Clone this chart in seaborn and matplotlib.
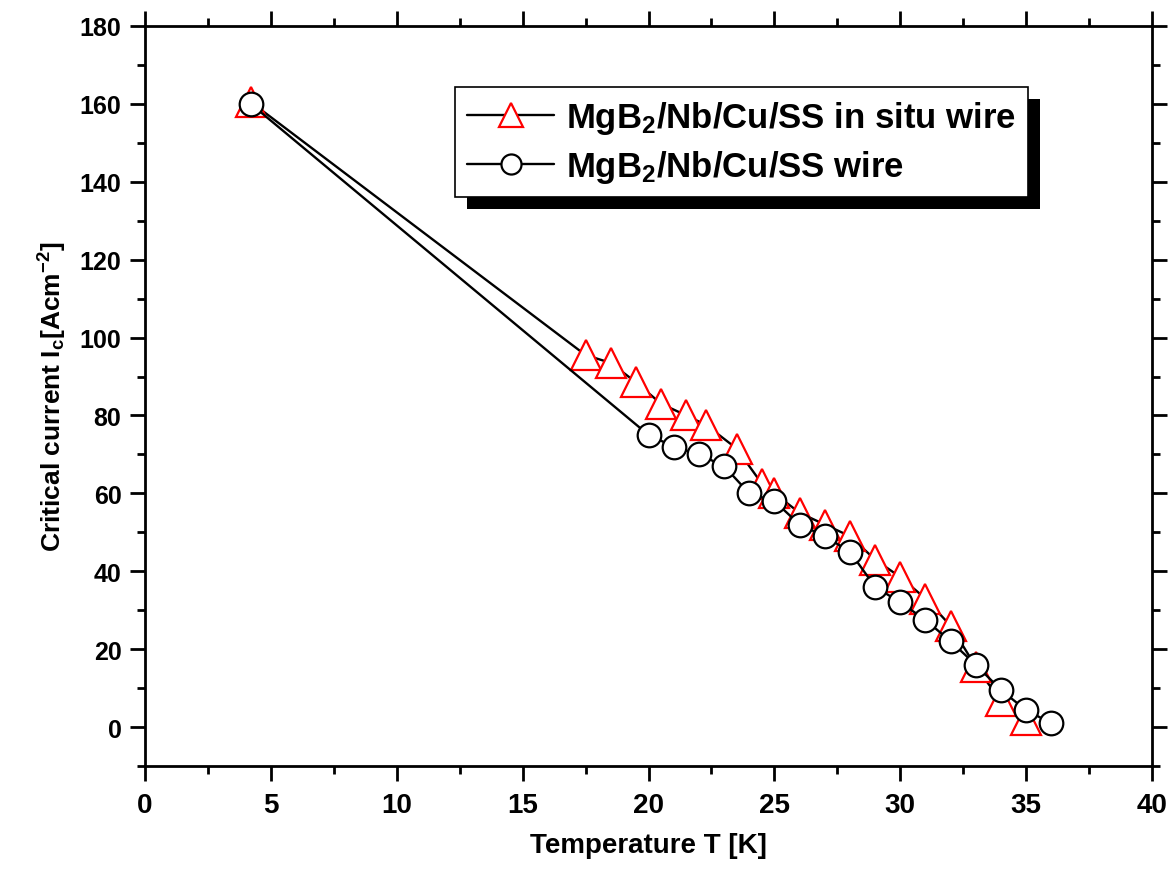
import numpy as np
import pandas as pd
import seaborn as sns
import matplotlib.pyplot as plt
from matplotlib.patches import Rectangle
from matplotlib.ticker import MultipleLocator

# ──────────────────────────────────────────────
# Data
# ──────────────────────────────────────────────
T_insitu = [4.2, 17.5, 18.5, 19.5, 20.5, 21.5, 22.3, 23.5, 24.5, 25, 26, 27,
            28, 29, 30, 31, 32, 33, 34, 35]
Ic_insitu = [160.5, 95.5, 93.5, 88.5, 83, 80, 77.5, 71.5, 62.5, 60, 55, 52,
             49, 43, 38.5, 33, 26, 15.5, 6.7, 1.8]

T_wire = [4.2, 20, 21, 22, 23, 24, 25, 26, 27, 28, 29, 30, 31, 32, 33, 34, 35, 36]
Ic_wire = [160, 75, 72, 70, 67, 60, 58, 52, 49, 45, 36, 32, 27.5, 22, 16,
           9.5, 4.3, 1]

label_insitu = r"MgB$_\mathbf{2}$/Nb/Cu/SS in situ wire"
label_wire = r"MgB$_\mathbf{2}$/Nb/Cu/SS wire"

df_insitu = pd.DataFrame({"T": T_insitu, "Ic": Ic_insitu})
df_wire = pd.DataFrame({"T": T_wire, "Ic": Ic_wire})

# ──────────────────────────────────────────────
# Style
# ──────────────────────────────────────────────
sns.set_style("ticks")
plt.rcParams["font.family"] = ["Liberation Sans", "DejaVu Sans"]
plt.rcParams["font.weight"] = "bold"
plt.rcParams["text.color"] = "black"
plt.rcParams["axes.labelcolor"] = "black"
plt.rcParams["xtick.color"] = "black"
plt.rcParams["ytick.color"] = "black"
plt.rcParams["mathtext.fontset"] = "custom"
plt.rcParams["mathtext.rm"] = "Liberation Sans:bold"
plt.rcParams["mathtext.bf"] = "Liberation Sans:bold"
plt.rcParams["mathtext.default"] = "bf"

fig = plt.figure(figsize=(11.74, 8.70), dpi=100)
ax = fig.add_axes([0.1235, 0.1184, 0.8578, 0.8506])

# ──────────────────────────────────────────────
# Plot
# ──────────────────────────────────────────────
sns.lineplot(data=df_insitu, x="T", y="Ic", ax=ax, color="black", lw=1.7,
             marker="^", markersize=21, markerfacecolor="white",
             markeredgecolor="red", markeredgewidth=1.6, label=label_insitu)
sns.lineplot(data=df_wire, x="T", y="Ic", ax=ax, color="black", lw=1.7,
             marker="o", markersize=17, markerfacecolor="white",
             markeredgecolor="black", markeredgewidth=1.6, label=label_wire)

ax.set_xlim(0, 40)
ax.set_ylim(-10, 180)
ax.xaxis.set_major_locator(MultipleLocator(5))
ax.xaxis.set_minor_locator(MultipleLocator(2.5))
ax.yaxis.set_major_locator(MultipleLocator(20))
ax.yaxis.set_minor_locator(MultipleLocator(10))

for s in ax.spines.values():
    s.set_visible(True)
    s.set_linewidth(2)
    s.set_color("black")
ax.tick_params(which="both", direction="out", top=True, right=True,
               width=2, color="black")
ax.tick_params(which="major", length=11)
ax.tick_params(which="minor", length=6)
ax.tick_params(axis="x", labelsize=20, pad=8)
ax.tick_params(axis="y", labelsize=18, pad=6)

ax.set_xlabel("Temperature T [K]", fontsize=20, fontweight="bold", labelpad=10)
ax.set_ylabel(r"Critical current I$_\mathbf{c}$[Acm$^\mathbf{-2}$]",
              fontsize=19, fontweight="bold", labelpad=8)

leg = ax.legend(loc="upper left", bbox_to_anchor=(0.308, 0.918),
                borderaxespad=0, fontsize=25, frameon=True, fancybox=False,
                edgecolor="black", framealpha=1, handlelength=2.5,
                handletextpad=0.35, labelspacing=0.35, borderpad=0.35,
                markerscale=0.85)
leg.get_frame().set_linewidth(1.2)
leg.set_zorder(6)

# black drop shadow behind the legend box
fig.canvas.draw()
bb = leg.get_window_extent()
shadow = Rectangle((bb.x0 + 12, bb.y0 - 12), bb.width, bb.height,
                   transform=None, facecolor="black", edgecolor="none",
                   zorder=5)
ax.add_artist(shadow)

fig.savefig("out.png", dpi=100)
